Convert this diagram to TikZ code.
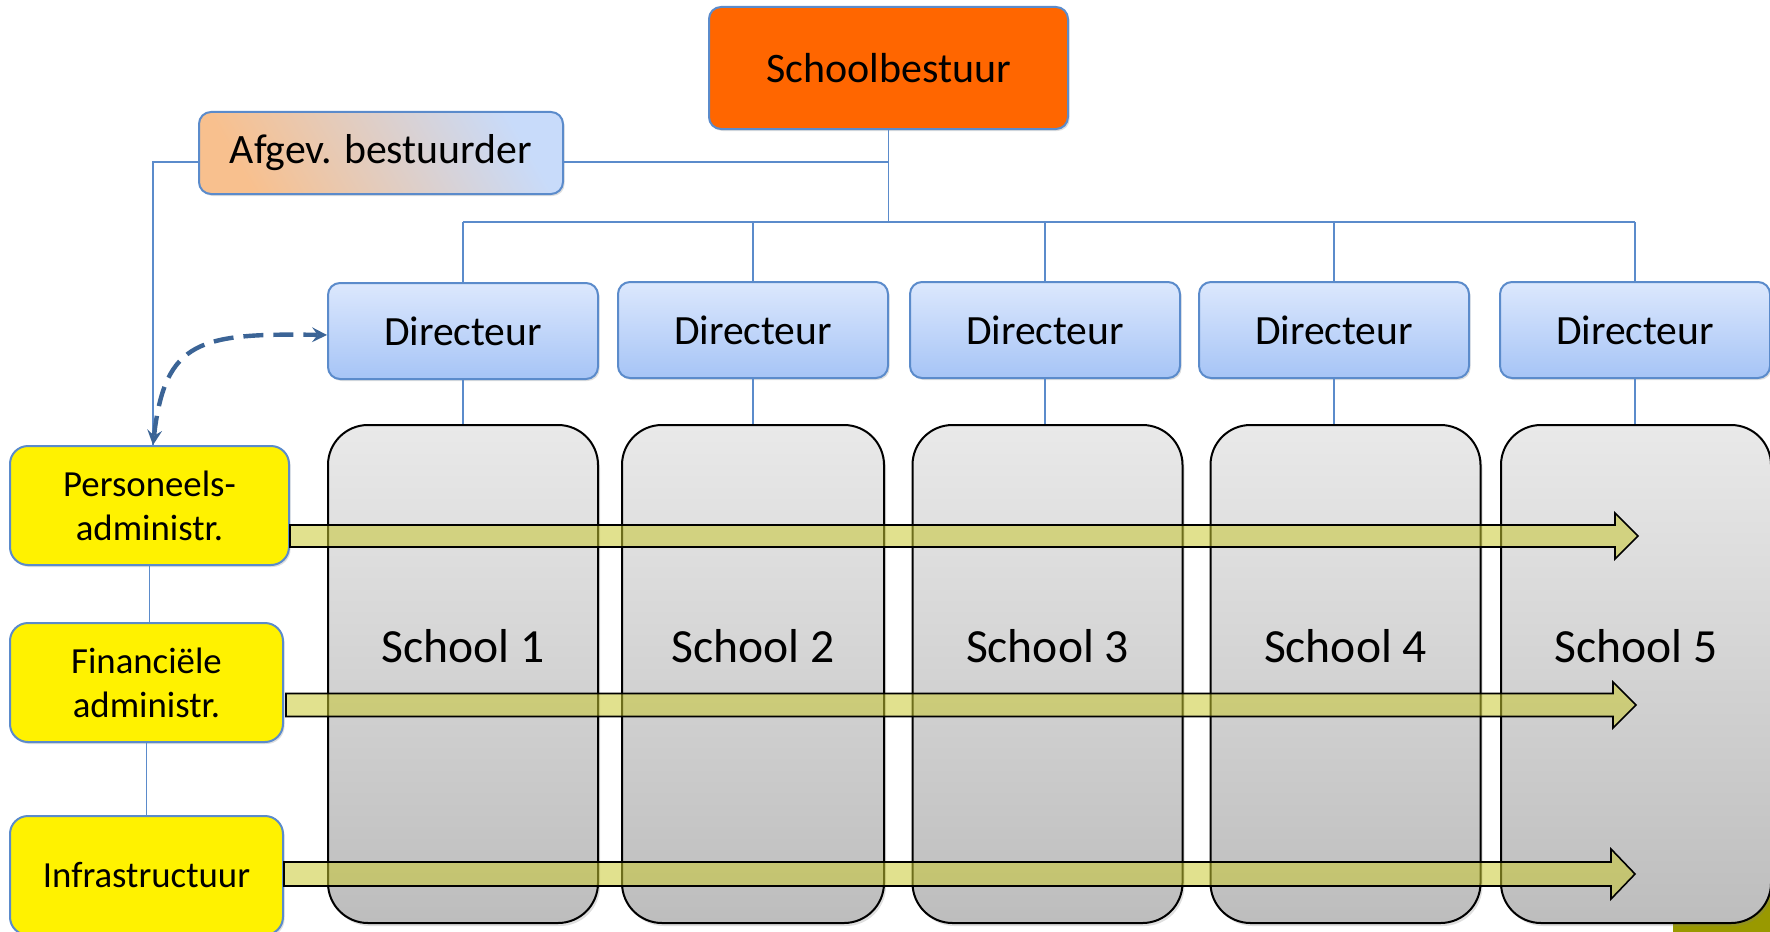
\documentclass[tikz,border=0pt]{standalone}
\usepackage{fontspec}
\setmainfont{Carlito}
\usetikzlibrary{calc,shadows}
\definecolor{orgblue}{HTML}{5B8BCB}
\definecolor{bestuurorange}{HTML}{FF6600}
\definecolor{peach}{HTML}{F8C08E}
\definecolor{lightblue}{HTML}{C8DBFA}
\definecolor{dirtop}{HTML}{DCE8FD}
\definecolor{dirbottom}{HTML}{A6C4F6}
\definecolor{schooltop}{HTML}{E9E9E9}
\definecolor{schoolbottom}{HTML}{BDBDBD}
\definecolor{bandfill}{HTML}{C8C832}
\definecolor{dasharrblue}{HTML}{3B6496}
\definecolor{cornerolive}{HTML}{999900}
\begin{document}
\begin{tikzpicture}[>=stealth, x=0.5pt, y=-0.5pt,
  org/.style={draw=orgblue, line width=0.75pt},
  box/.style={draw=orgblue, line width=1pt, rounded corners=6pt, inner sep=0pt,
    drop shadow={opacity=0.25, shadow xshift=0.8pt, shadow yshift=-1pt}},
  bestuurbox/.style={box, fill=bestuurorange, minimum width=179.5pt, minimum height=61pt,
    font=\fontsize{21}{25}\selectfont},
  afgevbox/.style={box, left color=peach, right color=lightblue, shading angle=120,
    minimum width=182pt, minimum height=41pt, font=\fontsize{20.9}{25}\selectfont},
  dirbox/.style={box, top color=dirtop, bottom color=dirbottom, minimum width=135pt,
    minimum height=48pt, font=\fontsize{20.8}{25}\selectfont},
  schoolbox/.style={draw=black, line width=1pt, rounded corners=20pt, inner sep=0pt,
    top color=schooltop, bottom color=schoolbottom, minimum width=135pt, minimum height=249pt,
    text height=16pt, text depth=28pt, font=\fontsize{23.8}{28}\selectfont,
    drop shadow={opacity=0.25, shadow xshift=1pt, shadow yshift=-1.5pt}},
  adminbox/.style={box, fill=yellow, rounded corners=9pt, minimum height=59.5pt,
    align=center, font=\fontsize{18.4}{22}\selectfont},
  band/.style={draw=black, line width=0.8pt, fill=bandfill, fill opacity=0.55},
  dasharr/.style={<->, draw=dasharrblue, line width=2.2pt, dash pattern=on 10pt off 5pt}]
\clip (0,0) rectangle (1770,931);
\useasboundingbox (0,0) rectangle (1770,931);

% bestuur
\node[bestuurbox] (bestuur) at (888.5,68) {Schoolbestuur};
\node[afgevbox] (afgev) at (381,153) {Afgev. bestuurder};

% directeuren
\node[dirbox] (d1) at (463,331) {Directeur};
\node[dirbox] (d2) at (753,330) {Directeur};
\node[dirbox] (d3) at (1045,330) {Directeur};
\node[dirbox] (d4) at (1334,330) {Directeur};
\node[dirbox] (d5) at (1635,330) {Directeur};

% scholen
\fill[cornerolive] (1673,880) rectangle (1780,940);
\node[schoolbox] (s1) at (463,674) {School 1};
\node[schoolbox, minimum width=131pt] (s2) at (753,674) {School 2};
\node[schoolbox] (s3) at (1047.5,674) {School 3};
\node[schoolbox] (s4) at (1345.5,674) {School 4};
\node[schoolbox] (s5) at (1636,674) {School 5};

% administratie
\node[adminbox, minimum width=139.5pt] (pers) at (149.5,505.5) {Personeels-\\administr.};
\node[adminbox, minimum width=136.5pt] (fin) at (146.5,682.5) {Financi\"ele\\administr.};
\node[adminbox, minimum width=136.5pt] (infra) at (146.5,875.5) {Infrastructuur};

% lijnen
\coordinate (bus) at (888.5,222);
\coordinate (aux) at (153,162);
\draw[org] (bestuur.south) -- (bestuur.south |- bus);
\draw[org] (d1.north |- bus) -- (d5.north |- bus);
\draw[org] (d1.north |- bus) -- (d1.north);
\draw[org] (d2.north |- bus) -- (d2.north);
\draw[org] (d3.north |- bus) -- (d3.north);
\draw[org] (d4.north |- bus) -- (d4.north);
\draw[org] (d5.north |- bus) -- (d5.north);
\draw[org] (d1.south) -- (d1.south |- s1.north);
\draw[org] (d2.south) -- (d2.south |- s2.north);
\draw[org] (d3.south) -- (d3.south |- s3.north);
\draw[org] (d4.south) -- (d4.south |- s4.north);
\draw[org] (d5.south) -- (d5.south |- s5.north);
\draw[org] (afgev.east |- aux) -- (aux -| bestuur.south);
\draw[org] (afgev.west |- aux) -- (aux) -- (aux |- pers.north);
\draw[org] (pers.south) -- (pers.south |- fin.north);
\draw[org] (fin.south) -- (fin.south |- infra.north);
\draw[dasharr] (aux |- pers.north) .. controls (165,340) and (200,333) .. (d1.west |- 0,335);

% pijlen
\coordinate (t1) at (1638,536);
\coordinate (t2) at (1636,705);
\coordinate (t3) at (1635,874);
\draw[band] ($(pers.east |- t1)+(0,-11)$) -- ($(t1)+(-23,-11)$) -- ($(t1)+(-23,-23)$) -- (t1)
  -- ($(t1)+(-23,23)$) -- ($(t1)+(-23,11)$) -- ($(pers.east |- t1)+(0,11)$) -- cycle;
\draw[band] ($(fin.east |- t2)+(2,-11.5)$) -- ($(t2)+(-23,-11.5)$) -- ($(t2)+(-23,-23)$) -- (t2)
  -- ($(t2)+(-23,23)$) -- ($(t2)+(-23,11.5)$) -- ($(fin.east |- t2)+(2,11.5)$) -- cycle;
\draw[band] ($(infra.east |- t3)+(0,-12)$) -- ($(t3)+(-24,-12)$) -- ($(t3)+(-24,-25)$) -- (t3)
  -- ($(t3)+(-24,25)$) -- ($(t3)+(-24,12)$) -- ($(infra.east |- t3)+(0,12)$) -- cycle;
\end{tikzpicture}
\end{document}
